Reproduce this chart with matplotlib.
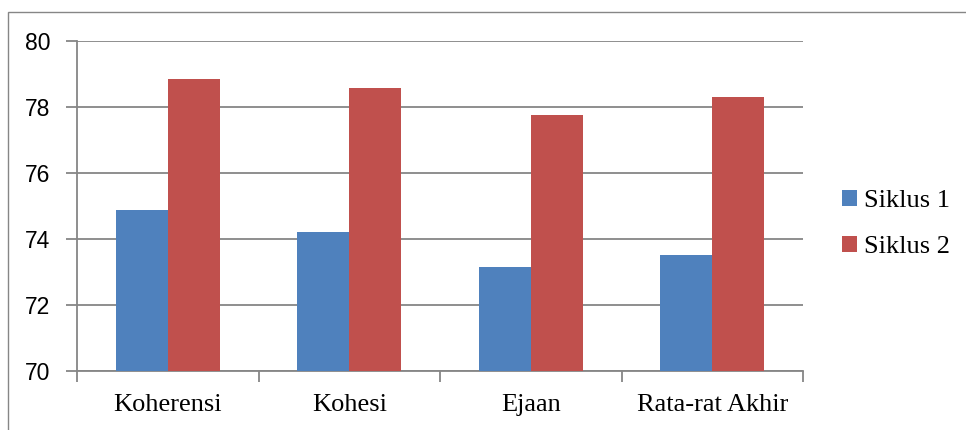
import matplotlib.pyplot as plt
import matplotlib.patches as mpatches
import numpy as np

# Data
kategori = ['Koherensi', 'Kohesi', 'Ejaan', 'Rata-rat Akhir']
siklus_1 = [74.89, 74.21, 73.15, 73.51]
siklus_2 = [78.86, 78.57, 77.76, 78.31]

biru = '#4F81BD'
merah = '#C0504D'
abu = '#868686'

fig = plt.figure(figsize=(9.66, 4.3), dpi=100)
fig.patch.set_facecolor('white')

# bingkai chart
fig.patches.append(mpatches.Rectangle((8 / 966, -0.05), 1.0, 1 - 12 / 430 + 0.05,
                                      transform=fig.transFigure, fill=False,
                                      edgecolor=abu, linewidth=1.0))

ax = fig.add_axes([77 / 966, 58.7 / 430, 726 / 966, 330.3 / 430])

x = np.arange(len(kategori))
lebar = 1 / 3.5
ax.bar(x - lebar / 2, siklus_1, lebar, color=biru, label='Siklus 1', zorder=3)
ax.bar(x + lebar / 2, siklus_2, lebar, color=merah, label='Siklus 2', zorder=3)

ax.set_xlim(-0.5, len(kategori) - 0.5)
ax.set_ylim(70, 80)
ax.set_yticks(range(70, 81, 2))
ax.yaxis.grid(True, color=abu, linewidth=1.3, zorder=0)
ax.set_axisbelow(True)

for s in ['top', 'right']:
    ax.spines[s].set_visible(False)
for s in ['left', 'bottom']:
    ax.spines[s].set_color(abu)
    ax.spines[s].set_linewidth(1.3)

ax.set_xticks(x)
ax.set_xticklabels(kategori, family='Liberation Serif', fontsize=19)
ax.set_xticks(np.arange(-0.5, len(kategori), 1), minor=True)
ax.tick_params(axis='x', which='major', length=0, pad=16)
ax.tick_params(axis='x', which='minor', length=8, color=abu, width=1.3, direction='out')
ax.tick_params(axis='y', length=8, color=abu, width=1.3, pad=11)
for t in ax.get_yticklabels():
    t.set_family('Liberation Sans')
    t.set_fontsize(16.5)

ax.legend(loc='center left', bbox_to_anchor=(842 / 966, 206 / 430), bbox_transform=fig.transFigure,
          frameon=False, prop={'family': 'Liberation Serif', 'size': 19},
          handlelength=0.55, handleheight=0.55, handletextpad=0.3, labelspacing=0.9,
          borderaxespad=0, borderpad=0)

fig.savefig('out.png', dpi=100)
